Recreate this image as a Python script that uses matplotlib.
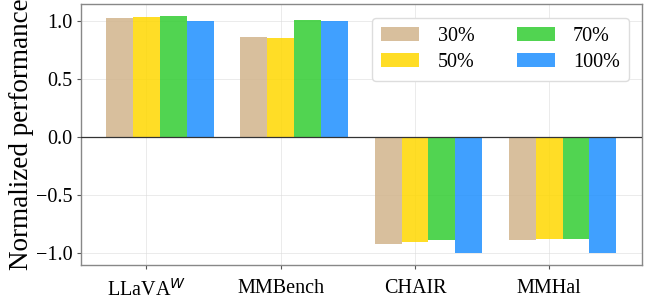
import numpy as np
import matplotlib.pyplot as plt

plt.rcParams['font.family'] = ['Liberation Serif', 'DejaVu Serif']
plt.rcParams['mathtext.fontset'] = 'dejavusans'

# ===== data
benchmarks = ['LLaVA$^{W}$', 'MMBench', 'CHAIR', 'MMHal']
ratios = ['30%', '50%', '70%', '100%']
perf_30 = [1.03, 0.87, -0.92, -0.883]
perf_50 = [1.04, 0.86, -0.90, -0.88]
perf_70 = [1.05, 1.01, -0.886, -0.875]
perf_100 = [1.00, 1.00, -1.00, -1.00]
colors = ['tan', 'gold', 'limegreen', 'dodgerblue']

series = [perf_30, perf_50, perf_70, perf_100]
x = np.arange(len(benchmarks))
width = 0.2

fig = plt.figure(figsize=(6.48, 3.02), dpi=100)
ax = fig.add_axes([0.1245, 0.1225, 0.866, 0.865])

for k, (vals, lab, col) in enumerate(zip(series, ratios, colors)):
    ax.bar(x + k*width, vals, width, label=lab, color=col, alpha=0.85, zorder=2)

ax.axhline(0, color='#333333', linewidth=0.9, zorder=3)
ax.set_xticks(x + width)
ax.set_xticklabels(benchmarks, fontsize=14.5)
ax.set_yticks([-1.0, -0.5, 0.0, 0.5, 1.0])
ax.tick_params(axis='y', labelsize=14.5, pad=3)
ax.tick_params(axis='x', pad=7)
ax.tick_params(color='#555555', length=3)
ax.set_ylabel('Normalized performance', fontsize=19.5, labelpad=1)
ax.grid(True, color='#dddddd', linewidth=0.6, alpha=0.7, zorder=0)
ax.set_axisbelow(True)
for sp in ax.spines.values():
    sp.set_color('#888888')
    sp.set_linewidth(1.0)

ax.legend(ncol=2, loc='upper right', fontsize=14.5, handlelength=1.9, handleheight=0.7,
          handletextpad=0.9, columnspacing=2.1, framealpha=1.0, edgecolor='#dddddd',
          borderpad=0.45, labelspacing=0.35, bbox_to_anchor=(0.995, 0.985))

fig.savefig('out.png', dpi=100)
